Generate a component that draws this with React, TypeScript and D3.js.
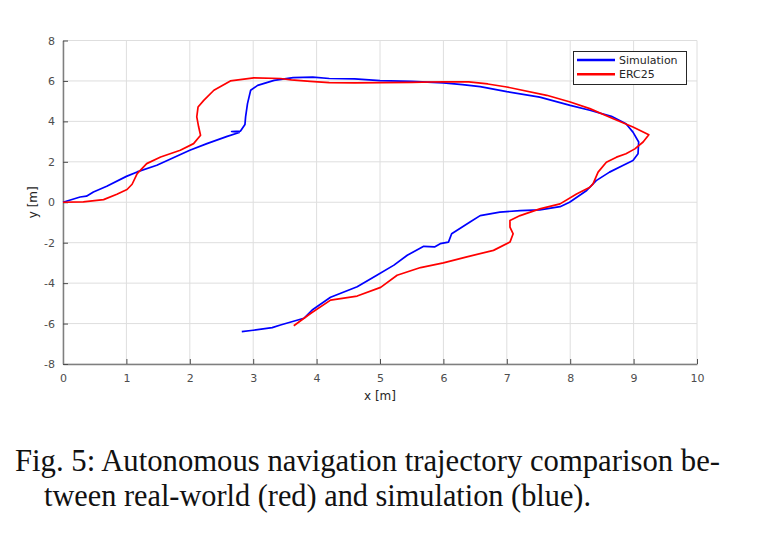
import { useEffect, useRef } from 'react';
import * as d3 from 'd3';

// Simulation trajectory (blue)
const simX = [
  0, 0.27, 0.37, 0.48, 0.69, 1.0, 1.17, 1.48, 2.0, 2.27, 2.59, 2.78, 2.66, 2.8, 2.87,
  2.88, 2.91, 2.96, 3.07, 3.33, 3.63, 3.94, 4.2, 4.6, 5.0, 5.5, 6.0, 6.3, 6.58, 7.0,
  7.52, 8.0, 8.31, 8.65, 8.88, 8.99, 9.08, 9.07, 8.99, 8.83, 8.62, 8.41, 8.26, 7.99,
  7.84, 7.52, 7.21, 6.89, 6.58, 6.42, 6.13, 6.08, 5.95, 5.86, 5.69, 5.43, 5.22, 4.95,
  4.64, 4.22, 3.93, 3.8, 3.43, 3.3, 3.0, 2.82,
];
const simY = [
  0, 0.26, 0.3, 0.51, 0.79, 1.28, 1.5, 1.83, 2.57, 2.9, 3.26, 3.45, 3.5, 3.52, 3.85,
  4.22, 4.88, 5.54, 5.78, 6.03, 6.16, 6.19, 6.12, 6.1, 6.02, 5.98, 5.9, 5.82, 5.72, 5.47,
  5.2, 4.79, 4.55, 4.25, 3.88, 3.47, 2.98, 2.4, 2.07, 1.82, 1.49, 1.07, 0.58, 0.0,
  -0.22, -0.38, -0.41, -0.49, -0.66, -0.98, -1.56, -1.97, -2.05, -2.21, -2.18, -2.62, -3.11, -3.61,
  -4.18, -4.7, -5.33, -5.74, -6.07, -6.2, -6.33, -6.4,
];

// ERC25 real-world trajectory (red)
const ercX = [
  0, 0.32, 0.64, 0.85, 1.01, 1.09, 1.17, 1.32, 1.54, 1.85, 2.06, 2.17, 2.14, 2.11, 2.13,
  2.22, 2.38, 2.64, 3.01, 3.43, 3.6, 3.9, 4.2, 4.6, 5.5, 6.0, 6.4, 6.7, 7.0, 7.63, 8.0,
  8.31, 8.68, 8.99, 9.24, 9.15, 9.02, 8.88, 8.73, 8.57, 8.44, 8.36, 8.31, 8.1, 7.84,
  7.52, 7.21, 7.05, 7.05, 7.1, 7.05, 6.79, 6.37, 6.0, 5.64, 5.27, 5.01, 4.64, 4.22,
  3.91, 3.64,
];
const ercY = [
  0, 0.02, 0.13, 0.4, 0.63, 0.89, 1.42, 1.91, 2.24, 2.57, 2.9, 3.31, 3.72, 4.22, 4.71,
  5.04, 5.54, 6.0, 6.15, 6.12, 6.05, 5.98, 5.92, 5.9, 5.93, 5.96, 5.95, 5.85, 5.7, 5.29, 4.96,
  4.63, 4.13, 3.72, 3.34, 2.98, 2.64, 2.4, 2.23, 1.98, 1.49, 0.91, 0.74, 0.41, -0.08,
  -0.33, -0.66, -0.9, -1.23, -1.56, -1.97, -2.38, -2.7, -3.0, -3.23, -3.61, -4.21, -4.64, -4.84,
  -5.49, -6.11,
];

const xTicks = [0, 1, 2, 3, 4, 5, 6, 7, 8, 9, 10];
const yTicks = [-8, -6, -4, -2, 0, 2, 4, 6, 8];
const legendLabels = ['Simulation', 'ERC25'];
const seriesColors = ['#0000ff', '#ff0000'];

export default function App() {
  const svgRef = useRef<SVGSVGElement>(null);

  useEffect(() => {
    if (!svgRef.current) return;

    const width = 770;
    const height = 547;
    const margin = { top: 40.5, left: 63, right: 73, bottom: 183 };

    const svg = d3.select(svgRef.current);
    svg.selectAll('*').remove();
    svg.attr('width', width).attr('height', height);

    const x = d3.scaleLinear().domain([0, 10]).range([margin.left, width - margin.right]);
    const y = d3.scaleLinear().domain([-8, 8]).range([height - margin.bottom, margin.top]);

    const font = 'DejaVu Sans, sans-serif';

    // grid
    const grid = svg.append('g').attr('stroke', '#dedede').attr('stroke-width', 1);
    grid.selectAll('.gx')
      .data(xTicks)
      .join('line')
      .attr('x1', (d) => x(d))
      .attr('x2', (d) => x(d))
      .attr('y1', y(-8))
      .attr('y2', y(8));
    grid.selectAll('.gy')
      .data(yTicks)
      .join('line')
      .attr('x1', x(0))
      .attr('x2', x(10))
      .attr('y1', (d) => y(d))
      .attr('y2', (d) => y(d));

    // axes, ticks pointing inward; plain hyphen for negatives like the original
    const fmt = (d: d3.NumberValue) => String(d);
    const xAxis = svg
      .append('g')
      .attr('transform', `translate(0,${y(-8)})`)
      .call(d3.axisBottom(x).tickValues(xTicks).tickFormat(fmt).tickSizeInner(-5).tickSizeOuter(0).tickPadding(10));
    const yAxis = svg
      .append('g')
      .attr('transform', `translate(${x(0)},0)`)
      .call(d3.axisLeft(y).tickValues(yTicks).tickFormat(fmt).tickSizeInner(-5).tickSizeOuter(0).tickPadding(8));

    [xAxis, yAxis].forEach((ax) => {
      ax.select('.domain').attr('stroke', '#7f7f7f').attr('stroke-width', 1.5);
      ax.selectAll('.tick line').attr('stroke', '#4d4d4d').attr('stroke-width', 1);
      ax.selectAll('text').attr('fill', '#4d4d4d').attr('font-family', font).attr('font-size', 11);
    });

    // axis labels
    svg.append('text')
      .attr('x', (x(0) + x(10)) / 2)
      .attr('y', 400)
      .attr('text-anchor', 'middle')
      .attr('font-family', font)
      .attr('font-size', 12)
      .attr('fill', '#262626')
      .text('x [m]');
    svg.append('text')
      .attr('transform', `translate(37,${y(0)}) rotate(-90)`)
      .attr('text-anchor', 'middle')
      .attr('font-family', font)
      .attr('font-size', 12)
      .attr('fill', '#262626')
      .text('y [m]');

    // trajectories
    const path = d3
      .line<[number, number]>()
      .x((d) => x(d[0]))
      .y((d) => y(d[1]));

    [
      { xs: simX, ys: simY },
      { xs: ercX, ys: ercY },
    ].forEach((s, k) => {
      const pts = s.xs.map((v, i) => [v, s.ys[i]] as [number, number]);
      svg.append('path')
        .datum(pts)
        .attr('d', path)
        .attr('fill', 'none')
        .attr('stroke', seriesColors[k])
        .attr('stroke-width', 1.7)
        .attr('stroke-linejoin', 'round');
    });

    // legend
    const lg = svg.append('g');
    lg.append('rect')
      .attr('x', 573.5)
      .attr('y', 51.5)
      .attr('width', 113)
      .attr('height', 33)
      .attr('fill', '#fff')
      .attr('stroke', '#262626')
      .attr('stroke-width', 1);
    legendLabels.forEach((label, i) => {
      const ly = 60 + i * 14.3;
      lg.append('line')
        .attr('x1', 577)
        .attr('x2', 615)
        .attr('y1', ly)
        .attr('y2', ly)
        .attr('stroke', seriesColors[i])
        .attr('stroke-width', 2.5);
      lg.append('text')
        .attr('x', 619)
        .attr('y', ly + 4)
        .attr('font-family', font)
        .attr('font-size', 11)
        .attr('fill', '#262626')
        .text(label);
    });

    // caption
    const cap = svg
      .append('g')
      .attr('font-family', 'Liberation Serif, Times New Roman, serif')
      .attr('fill', '#111');
    cap.append('text')
      .attr('x', 15)
      .attr('y', 471)
      .attr('font-size', 31)
      .attr('textLength', 705)
      .attr('lengthAdjust', 'spacingAndGlyphs')
      .text('Fig. 5: Autonomous navigation trajectory comparison be-');
    cap.append('text')
      .attr('x', 44)
      .attr('y', 506)
      .attr('font-size', 31)
      .attr('textLength', 547)
      .attr('lengthAdjust', 'spacingAndGlyphs')
      .text('tween real-world (red) and simulation (blue).');
  }, []);

  return (
    <div>
      <style>{'body{margin:0;background:#fff}'}</style>
      <svg ref={svgRef} style={{ display: 'block' }} />
    </div>
  );
}
